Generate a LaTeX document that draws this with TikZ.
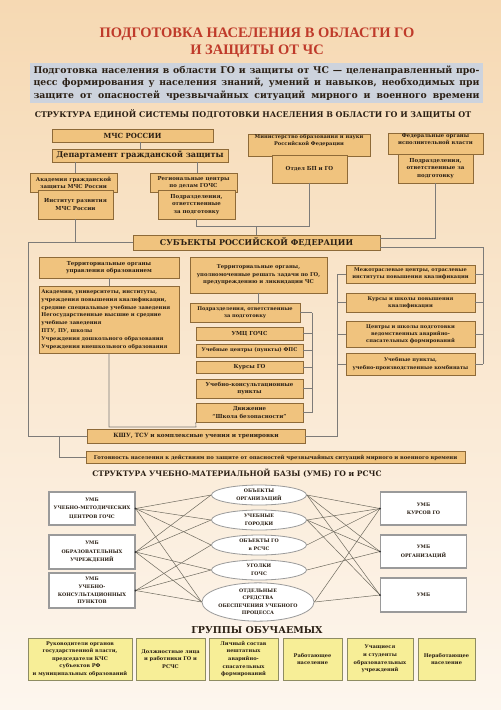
\documentclass[tikz,border=0pt]{standalone}
\usepackage{fontspec}
\setmainfont{DejaVu Serif}
\newfontfamily\ttlfont{Liberation Serif}
\usetikzlibrary{shapes.geometric}
\definecolor{bgtop}{HTML}{F6D9B3}
\definecolor{bgbot}{HTML}{FDF6EE}
\definecolor{ofill}{HTML}{F0C37E}
\definecolor{obord}{HTML}{8E6A38}
\definecolor{txt}{HTML}{2A1F14}
\definecolor{defbg}{HTML}{CDD3DD}
\definecolor{ttlred}{HTML}{BF3A2A}
\definecolor{lgray}{HTML}{7D7B78}
\definecolor{ugray}{HTML}{9A9A9A}
\definecolor{gfill}{HTML}{F7EE97}
\definecolor{gbord}{HTML}{8E8C62}
\definecolor{wcol}{HTML}{6E6A5E}
\newcommand{\jline}[1]{\makebox[446pt][s]{#1}}
\begin{document}
\begin{tikzpicture}[x=1pt,y=-1pt,
  ob/.style={draw=obord, fill=ofill, line width=0.6pt, align=center, inner sep=0.5pt, text=txt,
     font=\bfseries\fontsize{5.5}{7.4}\selectfont},
  obs/.style={ob, font=\bfseries\fontsize{5.1}{7.2}\selectfont},
  conn/.style={draw=lgray, line width=0.6pt},
  umbbox/.style={draw=ugray, fill=white, line width=1.2pt, align=center, inner sep=0.5pt, text=txt,
     font=\bfseries\fontsize{4.8}{8.4}\selectfont, minimum width=86pt},
  umbell/.style={ellipse, draw=ugray, fill=white, line width=0.8pt, align=center, inner sep=0pt, text=txt,
     font=\bfseries\fontsize{4.8}{7.6}\selectfont},
  grp/.style={draw=gbord, fill=gfill, line width=1pt, align=center, inner sep=0.5pt, text=txt,
     font=\bfseries\fontsize{5.1}{7.6}\selectfont, minimum height=42pt},
  wire/.style={draw=wcol, line width=0.5pt},
  hdr/.style={text=txt, font=\bfseries\fontsize{7.9}{10}\selectfont, inner sep=0pt}
]
\useasboundingbox (0,0) rectangle (501,710);
\shade[top color=bgtop, bottom color=bgbot] (0,0) rectangle (501,710);

% Title
\node[text=ttlred, align=center, font=\ttlfont\bfseries\fontsize{14.5}{17}\selectfont] (title) at (257,43)
  {ПОДГОТОВКА НАСЕЛЕНИЯ В ОБЛАСТИ ГО\\И ЗАЩИТЫ ОТ ЧС};
\node[fill=defbg, minimum width=453pt, minimum height=40pt, inner sep=0pt, align=left, text=txt,
  font=\bfseries\fontsize{9.3}{12.5}\selectfont] (def) at (256.5,83)
  {\jline{Подготовка населения в области ГО и защиты от ЧС — целенаправленный про-}\\
   \jline{цесс формирования у населения знаний, умений и навыков, необходимых при}\\
   \jline{защите от опасностей чрезвычайных ситуаций мирного и военного времени}};

\node[hdr] (h1) at (253,114) {СТРУКТУРА ЕДИНОЙ СИСТЕМЫ ПОДГОТОВКИ НАСЕЛЕНИЯ В ОБЛАСТИ ГО И ЗАЩИТЫ ОТ};

% Top structure
\node[ob, minimum width=161pt, minimum height=13pt, font=\bfseries\fontsize{7}{8}\selectfont] (mchs) at (132.5,135.5) {МЧС РОССИИ};
\node[ob, minimum width=176pt, minimum height=13pt, font=\bfseries\fontsize{8}{9}\selectfont] (dep) at (140,155.5) {Департамент гражданской защиты};
\node[ob, minimum width=87pt, minimum height=19pt, font=\bfseries\fontsize{5.4}{7}\selectfont, anchor=north] (akad) at (73.5,173) {Академия гражданской\\защиты МЧС России};
\node[ob, minimum width=75pt, minimum height=29pt] (inst) at (75.5,204.5) {Институт развития\\МЧС России};
\node[ob, minimum width=87pt, minimum height=19pt, font=\bfseries\fontsize{5.4}{7}\selectfont, anchor=north] (reg) at (193.5,173) {Региональные центры\\по делам ГОЧС};
\node[ob, minimum width=77pt, minimum height=29pt] (regp) at (196.5,204.5) {Подразделения,\\ответственные\\за подготовку};
\node[ob, minimum width=122pt, minimum height=22pt, font=\bfseries\fontsize{5.1}{7}\selectfont] (minobr) at (309,145) {Министерство образования и науки\\Российской Федерации\\[3pt]};
\node[ob, minimum width=75pt, minimum height=28pt] (otdel) at (309.5,169) {Отдел БП и ГО};
\node[ob, minimum width=95pt, minimum height=20pt, font=\bfseries\fontsize{5.3}{7}\selectfont] (fed) at (435.5,144) {Федеральные органы\\исполнительной власти\\[2pt]};
\node[ob, minimum width=75pt, minimum height=29pt] (fedp) at (435.5,168.5) {Подразделения,\\ответственные за\\подготовку};

\node[ob, minimum width=247pt, minimum height=15pt, font=\bfseries\fontsize{8}{9}\selectfont] (subj) at (256.5,242.5) {СУБЪЕКТЫ РОССИЙСКОЙ ФЕДЕРАЦИИ};

% Left column
\node[ob, minimum width=140pt, minimum height=21pt] (tou) at (109,267.5) {Территориальные органы\\управления образованием};
\node[ob, minimum width=140pt, minimum height=67pt, text width=135pt, align=left, inner sep=2pt,
  font=\bfseries\fontsize{5.2}{7.9}\selectfont] (edu) at (109,319.5)
  {Академии, университеты, институты,\\учреждения повышения квалификации,\\средние специальные учебные заведения\\Негосударственные высшие и средние\\учебные заведения\\ПТУ, ПУ, школы\\Учреждения дошкольного образования\\Учреждения внешкольного образования};

% Center column
\node[ob, minimum width=137pt, minimum height=36pt, font=\bfseries\fontsize{5.3}{7.6}\selectfont] (tch) at (258.5,275) {Территориальные органы,\\уполномоченные решать задачи по ГО,\\предупреждению и ликвидации ЧС};
\node[obs, minimum width=110pt, minimum height=19pt] (podr) at (245,312.5) {Подразделения, ответственные\\за подготовку};
\node[ob, minimum width=107pt, minimum height=13pt] (umc) at (249.5,333.5) {УМЦ ГОЧС};
\node[obs, minimum width=107pt, minimum height=13pt] (ucp) at (249.5,350.5) {Учебные центры (пункты) ФПС};
\node[ob, minimum width=107pt, minimum height=12pt] (kgo) at (249.5,367.5) {Курсы ГО};
\node[ob, minimum width=107pt, minimum height=19pt] (ukp) at (249.5,388.5) {Учебно-консультационные\\пункты};
\node[ob, minimum width=107pt, minimum height=19pt] (dvi) at (249.5,412.5) {Движение\\“Школа безопасности”};

% Right column
\node[obs, minimum width=129pt, minimum height=18pt] (r1) at (410.5,274) {Межотраслевые центры, отраслевые\\институты повышения квалификации};
\node[obs, minimum width=129pt, minimum height=19pt] (r2) at (410.5,302.5) {Курсы и школы повышения\\квалификации};
\node[obs, minimum width=129pt, minimum height=26pt] (r3) at (410.5,334) {Центры и школы подготовки\\ведомственных аварийно-\\спасательных формирований};
\node[obs, minimum width=129pt, minimum height=22pt] (r4) at (410.5,364) {Учебные пункты,\\учебно-производственные комбинаты};

% Bottom of structure
\node[ob, minimum width=218pt, minimum height=14pt, font=\bfseries\fontsize{5.8}{7}\selectfont] (kshu) at (196,436) {КШУ, ТСУ и комплексные учения и тренировки};
\node[ob, minimum width=379pt, minimum height=12pt, font=\bfseries\fontsize{5.3}{6.5}\selectfont] (got) at (275.5,457.5) {Готовность населения к действиям по защите от опасностей чрезвычайных ситуаций мирного и военного времени};

% Connectors (structure)
\draw[conn] (140,0 |- mchs.south) -- (140,0 |- dep.north);
\draw[conn] (75,0 |- dep.south) -- (75,0 |- akad.north);
\draw[conn] (197,0 |- dep.south) -- (197,0 |- reg.north);
\draw[conn] (inst.south) -- (inst.south |- subj.west);
\draw[conn] (subj.west) -- (28,242.5) -- (28,436) -- (kshu.west);
\draw[conn] (59,436) |- (got.west);
\coordinate (jr) at (256.5,226);
\draw[conn] (regp.south) |- (otdel.south |- jr) -- (otdel.south);
\draw[conn] (jr) -- (subj.north);
\draw[conn] (fedp.south) |- (subj.east |- 0,238);
\draw[conn] (subj.east |- 0,247) -- (483,247) -- (483,0 |- r4.east);
\foreach \r in {r1,r2,r3,r4} {
  \draw[conn] (\r.east) -- (483,0 |- \r.east);
  \draw[conn] (\r.west) -- (337,0 |- \r.west);
}
\draw[conn] (337,0 |- r1.west) -- (337,436) -- (kshu.east);
\draw[conn] (tou.south) -- (edu.north);
\draw[conn] (258,0 |- tch.south) -- (258,0 |- podr.north);
\foreach \c in {podr,umc,ucp,kgo,ukp,dvi} {
  \draw[conn] (\c.east) -- (312,0 |- \c.east);
}
\draw[conn] (312,0 |- podr.east) -- (312,0 |- dvi.east);
\draw[conn] (edu.south) -- (109,427) -- (196,427) -- (dvi.south west);

% UMB
\node[hdr, font=\bfseries\fontsize{7.6}{9}\selectfont] (h2) at (237,473) {СТРУКТУРА УЧЕБНО-МАТЕРИАЛЬНОЙ БАЗЫ (УМБ) ГО и РСЧС};
\node[umbbox, minimum height=33pt] (L1) at (92,508.5) {УМБ\\УЧЕБНО-МЕТОДИЧЕСКИХ\\ЦЕНТРОВ ГОЧС};
\node[umbbox, minimum height=34pt] (L2) at (92,552) {УМБ\\ОБРАЗОВАТЕЛЬНЫХ\\УЧРЕЖДЕНИЙ};
\node[umbbox, minimum height=35pt, font=\bfseries\fontsize{4.8}{7.8}\selectfont] (L3) at (92,590.5) {УМБ\\УЧЕБНО-\\КОНСУЛЬТАЦИОННЫХ\\ПУНКТОВ};
\node[umbbox, minimum height=33pt] (R1) at (423.5,508.5) {УМБ\\КУРСОВ ГО};
\node[umbbox, minimum height=33pt] (R2) at (423.5,551.5) {УМБ\\ОРГАНИЗАЦИЙ};
\node[umbbox, minimum height=34pt] (R3) at (423.5,595) {УМБ};

\node[umbell, minimum width=95pt, minimum height=20pt] (E1) at (259,495) {ОБЪЕКТЫ\\ОРГАНИЗАЦИЙ};
\node[umbell, minimum width=95pt, minimum height=20pt] (E2) at (259,520) {УЧЕБНЫЕ\\ГОРОДКИ};
\node[umbell, minimum width=95pt, minimum height=20pt] (E3) at (259,545) {ОБЪЕКТЫ ГО\\в РСЧС};
\node[umbell, minimum width=95pt, minimum height=20pt] (E4) at (259,570) {УГОЛКИ\\ГОЧС};
\node[umbell, minimum width=101pt, minimum height=35pt] (E5) at (258,602) {ОТДЕЛЬНЫЕ\\СРЕДСТВА\\ОБЕСПЕЧЕНИЯ УЧЕБНОГО\\ПРОЦЕССА};

\foreach \a/\b in {L1/E1,L1/E2,L1/E3,L1/E5,L2/E1,L2/E2,L2/E4,L2/E5,L3/E3,L3/E4,L3/E5} {
  \draw[wire] (\a.east) -- (\b.west);
}
\foreach \a/\b in {E1/R1,E1/R2,E1/R3,E2/R1,E2/R2,E2/R3,E3/R1,E4/R2,E5/R1,E5/R3} {
  \draw[wire] (\a.east) -- (\b.west);
}
\foreach \n in {L1,L2,L3} { \fill[black!80] (\n.east) circle (1.1pt); }
\foreach \n in {R1,R2,R3} { \fill[black!80] (\n.west) circle (1.1pt); }

% Groups
\node[hdr, font=\bfseries\fontsize{9.5}{11}\selectfont] (h3) at (257,630) {ГРУППЫ ОБУЧАЕМЫХ};
\node[grp, minimum width=104pt] (g1) at (80,659) {Руководители органов\\государственной власти,\\председатели КЧС\\субъектов РФ\\и муниципальных образований};
\node[grp, minimum width=69pt] (g2) at (170.5,659) {Должностные лица\\и работники ГО и\\РСЧС};
\node[grp, minimum width=69pt] (g3) at (243.5,659) {Личный состав\\нештатных\\аварийно-\\спасательных\\формирований};
\node[grp, minimum width=59pt] (g4) at (312.5,659) {Работающее\\население};
\node[grp, minimum width=66pt] (g5) at (380,659) {Учащиеся\\и студенты\\образовательных\\учреждений};
\node[grp, minimum width=57pt] (g6) at (446.5,659) {Неработающее\\население};
\end{tikzpicture}
\end{document}
